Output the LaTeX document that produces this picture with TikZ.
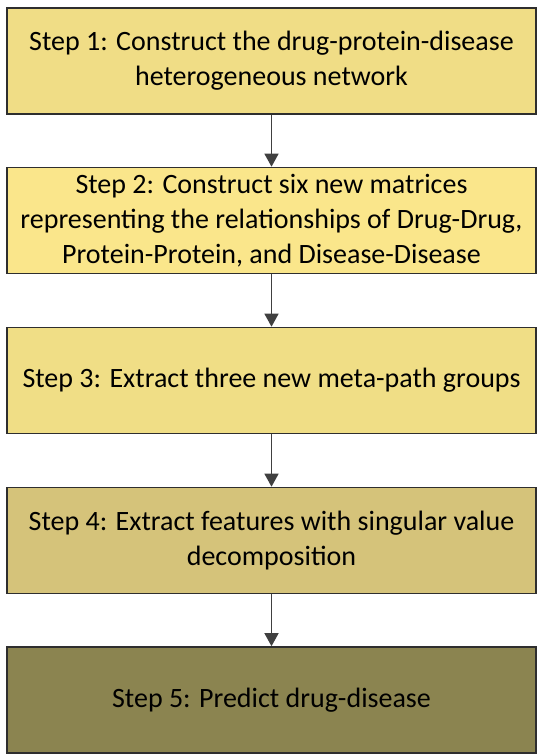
\documentclass[tikz,border=0pt]{standalone}
\usepackage{fontspec}
\setmainfont{Carlito}
\usetikzlibrary{arrows.meta}
\definecolor{StepOne}{HTML}{F0DD86}
\definecolor{StepTwo}{HTML}{FAE68B}
\definecolor{StepThree}{HTML}{F0DE86}
\definecolor{StepFour}{HTML}{D5C37A}
\definecolor{StepFive}{HTML}{8B8450}
\definecolor{BoxLine}{HTML}{2E2E2E}
\definecolor{ArrowGray}{HTML}{404040}

\begin{document}
\begin{tikzpicture}[x=1pt,y=-1pt,
    stepbox/.style={draw=BoxLine,line width=1.6pt,minimum width=529pt,
      minimum height=106pt,inner sep=0pt,align=center,
      font=\fontsize{28}{35}\selectfont},
    flow/.style={draw=ArrowGray,line width=1.4pt,
      -{Triangle[length=13pt,width=14pt]}}]
    \useasboundingbox (0,0) rectangle (537,754);
    \clip (0,0) rectangle (537,754);
    % the five steps
    \node[stepbox,fill=StepOne] (s1) at (271.5,61)
      {Step 1: Construct the drug-protein-disease\\heterogeneous network};
    \node[stepbox,fill=StepTwo] (s2) at (271.5,220.5)
      {Step 2: Construct six new matrices\\representing the relationships of Drug-Drug,\\Protein-Protein, and Disease-Disease};
    \node[stepbox,fill=StepThree] (s3) at (271.5,380.5)
      {Step 3: Extract three new meta-path groups};
    \node[stepbox,fill=StepFour] (s4) at (271.5,540.5)
      {Step 4: Extract features with singular value\\decomposition};
    \node[stepbox,fill=StepFive] (s5) at (271.5,700)
      {Step 5: Predict drug-disease};
    % arrows between them
    \draw[flow] (s1) -- (s2);
    \draw[flow] (s2) -- (s3);
    \draw[flow] (s3) -- (s4);
    \draw[flow] (s4) -- (s5);
  \end{tikzpicture}
\end{document}
